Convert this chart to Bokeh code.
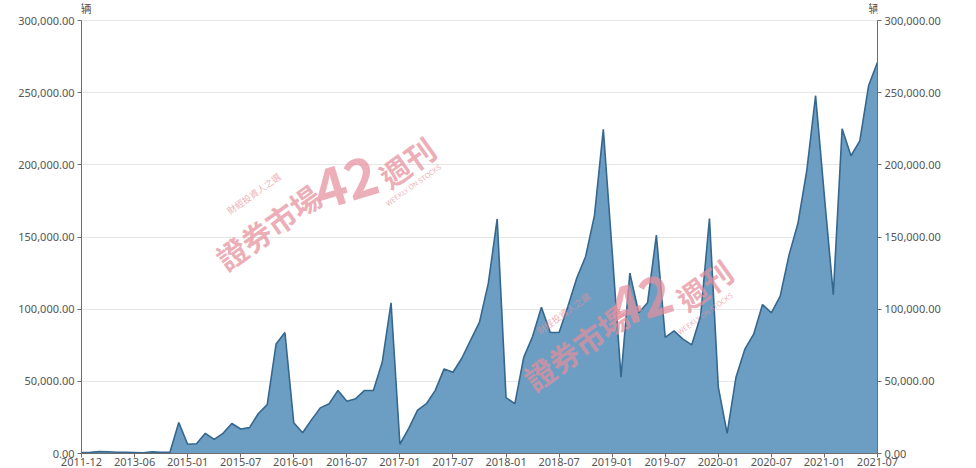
from bokeh.plotting import figure
from bokeh.models import (Range1d, LinearAxis, NumeralTickFormatter, FixedTicker, Label)
from bokeh.embed import file_html
from bokeh.resources import INLINE

# ---- data ----
early_periods = ["2011-12", "2012-03", "2012-06", "2012-09", "2012-12", "2013-03",
                 "2013-06", "2013-09", "2013-12", "2014-03", "2014-06", "2014-12"]
monthly_periods = [f"{y}-{m:02d}" for y in range(2015, 2022) for m in range(1, 13)][:79]
categories = early_periods + monthly_periods

sales = [600, 900, 1300, 1200, 900, 800, 700, 500, 1100, 900, 800,
         21500, 6400, 6800, 14000, 9800, 14000, 20800, 17000, 17900, 27700,
         33900, 75800, 83800, 21300, 14400, 23300, 31600, 34500, 43700, 36200,
         38000, 43700, 43700, 63200, 104400, 6400, 17400, 30000, 34500, 43700,
         58600, 56300, 66000, 78500, 91000, 118000, 162500, 38700, 34500, 66600,
         81000, 101400, 83800, 83800, 102100, 121600, 136500, 165000, 224600, 140000,
         52900, 125000, 97500, 104400, 151300, 80400, 85000, 79200, 75300, 95300,
         162800, 46000, 13900, 52900, 72300, 82600, 103200, 97500, 109000, 137600,
         159300, 195900, 247900, 178000, 110100, 225000, 206300, 216600, 255000, 271000]

y_ticks = [0, 50000, 100000, 150000, 200000, 250000, 300000]
axis_max = 300000
unit_label = "辆"

xs = list(range(len(categories)))
x_tick_idx = xs[::6]
x_tick_labels = {i: categories[i] for i in x_tick_idx}

# ---- figure ----
# frame reaches a little above the 300,000 line so the unit labels fit inside it
view_top = axis_max * 451 / 433
p = figure(width=976, height=468, output_backend="svg", toolbar_location=None,
           x_range=Range1d(0, len(categories) - 1), y_range=Range1d(0, view_top),
           min_border_left=81, min_border_right=99, min_border_top=2, min_border_bottom=10)
p.outline_line_color = None
p.background_fill_color = "white"
p.border_fill_color = "white"

p.varea(x=xs, y1=[0] * len(xs), y2=sales, fill_color="#6c9ec3", fill_alpha=1.0)
p.line(x=xs, y=sales, line_color="#35678f", line_width=1.6)

# axes
p.xaxis.ticker = FixedTicker(ticks=x_tick_idx)
p.xaxis.major_label_overrides = x_tick_labels
p.yaxis.ticker = FixedTicker(ticks=y_ticks)
p.yaxis.formatter = NumeralTickFormatter(format="0,0.00")
p.yaxis.bounds = (0, axis_max)

p.extra_y_ranges = {"right": Range1d(0, view_top)}
ry = LinearAxis(y_range_name="right", ticker=FixedTicker(ticks=y_ticks),
                formatter=NumeralTickFormatter(format="0,0.00"), bounds=(0, axis_max))
p.add_layout(ry, "right")

for ax in [p.xaxis[0], p.yaxis[0], ry]:
    ax.axis_line_color = "#6e6e6e"
    ax.major_tick_line_color = "#6e6e6e"
    ax.minor_tick_line_color = None
    ax.major_tick_out = 4
    ax.major_tick_in = 0
    ax.major_label_text_color = "#555555"
    ax.major_label_text_font = "Noto Sans"
    ax.major_label_text_font_size = "11px"
    ax.major_label_standoff = 3
p.xaxis.major_label_standoff = 0

p.xgrid.grid_line_color = None
p.ygrid.grid_line_color = "#e6e6e6"
p.ygrid.ticker = FixedTicker(ticks=y_ticks)

p.add_layout(Label(x=0, y=axis_max, x_offset=-1, y_offset=5, text=unit_label,
                   text_align="left", text_baseline="bottom", text_font="Noto Sans CJK SC",
                   text_font_size="11px", text_color="#555555"))
p.add_layout(Label(x=len(categories) - 1, y=axis_max, x_offset=2, y_offset=5, text=unit_label,
                   text_align="right", text_baseline="bottom", text_font="Noto Sans CJK SC",
                   text_font_size="11px", text_color="#555555"))

# ---- watermark ----
wm_color = "#e58f9c"
marks = [
    (21.1, 157000, "證券市場", "30px", 0.62, "bold"),
    (29.9, 188000, "42", "54px", 0.3, "bold"),
    (36.8, 202000, "週刊", "30px", 0.62, "bold"),
    (19.5, 180000, "財經投資人之選", "9px", 0.62, "normal"),
    (37.5, 186000, "WEEKLY ON STOCKS", "7px", 0.62, "normal"),
    (55.9, 73500, "證券市場", "30px", 0.62, "bold"),
    (63.2, 106000, "42", "54px", 0.3, "bold"),
    (70.4, 117000, "週刊", "30px", 0.62, "bold"),
    (54.5, 97000, "財經投資人之選", "9px", 0.62, "normal"),
    (70.5, 97000, "WEEKLY ON STOCKS", "7px", 0.62, "normal"),
]
for mx, my, txt, fs, ang, fw in marks:
    p.add_layout(Label(x=mx, y=my, text=txt, angle=ang, text_align="center",
                       text_baseline="middle", text_font="Noto Sans CJK TC",
                       text_font_size=fs, text_font_style=fw,
                       text_color=wm_color, text_alpha=0.72))

open("out.html", "w").write(file_html(p, INLINE))
